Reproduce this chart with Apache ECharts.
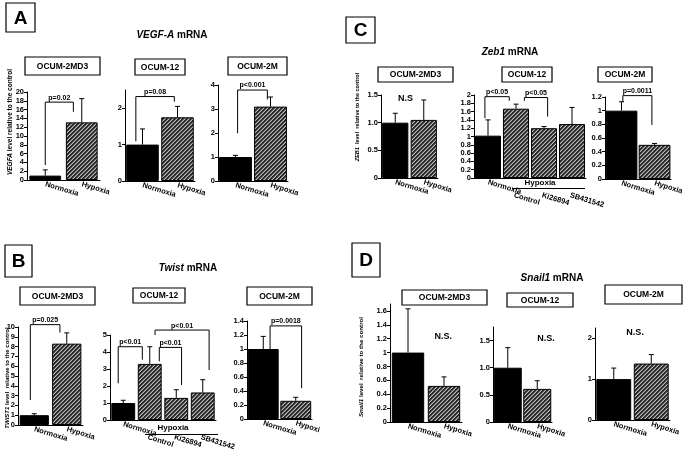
<!DOCTYPE html>
<html><head><meta charset="utf-8">
<script src="https://cdn.jsdelivr.net/npm/echarts@6/dist/echarts.min.js"></script>
<style>html,body{margin:0;padding:0;background:#fff}#c{width:686px;height:458px}</style>
</head><body><div id="c"></div>
<script>
// ---------------- data ----------------
const catsTwo = ['Normoxia', 'Hypoxia'];
const catsFour = ['Normoxia', 'Control', 'Ki26894', 'SB431542'];
const catsTwoShort = ['Normoxia', 'Hypoxi'];

// VEGF-A mRNA (panel A)
const vegf2MD3 = [1.0, 13.1];   const vegf2MD3Sd = [1.3, 5.4];
const vegf12   = [1.0, 1.75];   const vegf12Sd   = [0.43, 0.3];
const vegf2M   = [1.0, 3.1];    const vegf2MSd   = [0.07, 0.4];
// Zeb1 mRNA (panel C)
const zeb2MD3  = [1.0, 1.05];   const zeb2MD3Sd  = [0.17, 0.36];
const zeb12    = [1.02, 1.67, 1.2, 1.3]; const zeb12Sd = [0.38, 0.11, 0.04, 0.4];
const zeb2M    = [1.0, 0.5];    const zeb2MSd    = [0.13, 0.02];
// Twist mRNA (panel B)
const twist2MD3 = [1.0, 8.3];   const twist2MD3Sd = [0.15, 1.1];
const twist12   = [1.0, 3.3, 1.3, 1.62]; const twist12Sd = [0.16, 1.01, 0.48, 0.75];
const twist2M   = [1.0, 0.26];  const twist2MSd   = [0.18, 0.05];
// Snail1 mRNA (panel D)
const snail2MD3 = [1.0, 0.52];  const snail2MD3Sd = [0.63, 0.13];
const snail12   = [1.0, 0.61];  const snail12Sd   = [0.37, 0.15];
const snail2M   = [1.0, 1.38];  const snail2MSd   = [0.27, 0.22];

// ---------------- styling helpers ----------------
const FF = '"Liberation Sans", Arial, sans-serif';
const hatch = (function () {
  const c = document.createElement('canvas'); c.width = 4; c.height = 4;
  const ctx = c.getContext('2d'); const img = ctx.createImageData(4, 4);
  const shade = [40, 40, 110, 185];
  for (let y = 0; y < 4; y++) for (let x = 0; x < 4; x++) {
    const k = (y * 4 + x) * 4; const v = shade[(x + y) % 4];
    img.data[k] = v; img.data[k + 1] = v; img.data[k + 2] = v; img.data[k + 3] = 255;
  }
  ctx.putImageData(img, 0, 0); return c;
})();
const hatchFill = { image: hatch, repeat: 'repeat' };

const fmtDec1 = v => (v === 0 ? '0' : v.toFixed(1));
const ROT = -17;

// layout of the 12 small charts
const subplots = [
  { g: [27, 92, 73, 88],  cats: catsTwo, vals: vegf2MD3, sd: vegf2MD3Sd, max: 20, step: 2, gap: '13%',
    ann: [{ l: 0, lo: 0, yl: 3.4, top: 17.7, r: 1, ro: -0.23, yr: 15.5, text: 'p=0.02' }] },
  { g: [125, 90, 70, 91], cats: catsTwo, vals: vegf12, sd: vegf12Sd, max: 2.5, step: 1, gap: '7%', hideMax: true,
    ann: [{ l: 0, lo: -0.19, yl: 1.09, top: 2.32, r: 1, ro: -0.09, yr: 2.18, text: 'p=0.08' }] },
  { g: [218, 85, 70, 96], cats: catsTwo, vals: vegf2M, sd: vegf2MSd, max: 4, step: 1, gap: '6%',
    ann: [{ l: 0, lo: 0.06, yl: 1.99, top: 3.79, r: 1, ro: -0.09, yr: 3.4, text: 'p<0.001' }] },

  { g: [381, 95, 57, 83], cats: catsTwo, vals: zeb2MD3, sd: zeb2MD3Sd, max: 1.5, step: 0.5, gap: '8%', fmt: fmtDec1,
    ann: [{ c: 0, o: 0.36, y: 1.43, note: 'N.S' }] },
  { g: [474, 95, 112, 83], cats: catsFour, vals: zeb12, sd: zeb12Sd, max: 2, step: 0.2, gap: '7%', group: true,
    ann: [{ l: 0, lo: -0.11, yl: 1.44, top: 1.96, r: 1, ro: -0.24, yr: 1.86, text: 'p<0.05' },
          { l: 1, lo: 0.3, yl: 1.86, top: 1.94, r: 2, ro: 0.13, yr: 1.48, text: 'p<0.05' }] },
  { g: [605, 97, 68, 82], cats: catsTwo, vals: zeb2M, sd: zeb2MSd, max: 1.2, step: 0.2, gap: '4%',
    ann: [{ l: 0, lo: 0.04, yl: 1.13, top: 1.22, r: 1, ro: -0.08, yr: 0.79, text: 'p=0.0011' }] },

  { g: [18, 327, 65, 98], cats: catsTwo, vals: twist2MD3, sd: twist2MD3Sd, max: 10, step: 1, gap: '10%',
    ann: [{ l: 0, lo: -0.12, yl: 2.54, top: 10.24, r: 1, ro: -0.21, yr: 9.43, text: 'p=0.025' }] },
  { g: [110, 335, 106, 85], cats: catsFour, vals: twist12, sd: twist12Sd, max: 5, step: 1, gap: '10%', group: true,
    ann: [{ l: 0, lo: -0.19, yl: 2.16, top: 4.31, r: 1, ro: -0.28, yr: 3.55, text: 'p<0.01' },
          { l: 1, lo: 0.36, yl: 3.45, top: 4.27, r: 2, ro: 0.2, yr: 2.06, text: 'p<0.01' },
          { l: 1, lo: 0.2, yl: 5.0, top: 5.29, r: 3, ro: 0.24, yr: 2.94, text: 'p<0.01' }] },
  { g: [247, 321, 65, 98], cats: catsTwoShort, vals: twist2M, sd: twist2MSd, max: 1.4, step: 0.2, gap: '5%',
    ann: [{ l: 0, lo: 0.21, yl: 1.0, top: 1.33, r: 1, ro: 0.18, yr: 0.44, text: 'p=0.0018' }] },

  { g: [390, 304, 72, 118], cats: catsTwo, vals: snail2MD3, sd: snail2MD3Sd, max: 1.7, step: 0.2, gap: '10%', hideMax: true,
    ann: [{ c: 1, o: -0.02, y: 1.23, note: 'N.S.' }] },
  { g: [493, 327, 59, 95], cats: catsTwo, vals: snail12, sd: snail12Sd, max: 1.75, step: 0.5, gap: '5%', fmt: fmtDec1, hideMax: true,
    ann: [{ c: 1, o: 0.3, y: 1.53, note: 'N.S.' }] },
  { g: [595, 328, 75, 92], cats: catsTwo, vals: snail2M, sd: snail2MSd, max: 2.25, step: 1, gap: '7%', hideMax: true,
    ann: [{ c: 0, o: 0.57, y: 2.15, note: 'N.S.' }] }
];

const grids = [], xAxes = [], yAxes = [], series = [];
subplots.forEach((s, i) => {
  grids.push({ left: s.g[0], top: s.g[1], width: s.g[2], height: s.g[3], containLabel: false });
  const labelBase = { fontFamily: FF, fontWeight: 'bold', fontSize: 7.5, color: '#000' };
  const xLabel = Object.assign({ rotate: ROT, margin: 4, interval: 0 }, labelBase);
  if (s.group) xLabel.formatter = (v, idx) => (idx === 0 ? v : '');
  xAxes.push({
    type: 'category', gridIndex: i, data: s.cats,
    axisLine: { show: true, lineStyle: { color: '#000', width: 1 } },
    axisTick: { show: false }, splitLine: { show: false }, axisLabel: xLabel
  });
  yAxes.push({
    type: 'value', gridIndex: i, min: 0, max: s.max, interval: s.step,
    axisLine: { show: true, lineStyle: { color: '#000', width: 1 } },
    axisTick: { show: true, length: 3, inside: false, lineStyle: { color: '#000' } },
    splitLine: { show: false },
    axisLabel: Object.assign({ margin: 3, showMaxLabel: !s.hideMax, formatter: s.fmt }, labelBase)
  });
  series.push({
    type: 'bar', xAxisIndex: i, yAxisIndex: i, barCategoryGap: s.gap,
    data: s.vals.map((v, k) => ({ value: v, itemStyle: { color: k === 0 ? '#000' : hatchFill, borderColor: '#000', borderWidth: 1 } })),
    z: 2
  });
  // error bars (upper whisker)
  series.push({
    type: 'custom', xAxisIndex: i, yAxisIndex: i, z: 3, silent: true,
    data: s.vals.map((v, k) => [k, v, v + s.sd[k]]),
    renderItem: (params, api) => {
      const x = api.value(0);
      const p0 = api.coord([x, api.value(1)]);
      const p1 = api.coord([x, api.value(2)]);
      return {
        type: 'group', children: [
          { type: 'line', shape: { x1: p0[0], y1: p0[1], x2: p1[0], y2: p1[1] }, style: { stroke: '#000', lineWidth: 1 } },
          { type: 'line', shape: { x1: p1[0] - 2.5, y1: p1[1], x2: p1[0] + 2.5, y2: p1[1] }, style: { stroke: '#000', lineWidth: 1 } }
        ]
      };
    }
  });
  // significance brackets and notes
  series.push({
    type: 'custom', xAxisIndex: i, yAxisIndex: i, z: 4, silent: true, clip: false,
    data: s.ann.map(a => [a.l !== undefined ? a.l : a.c, a.top !== undefined ? a.top : a.y]),
    renderItem: (params, api) => {
      const a = s.ann[params.dataIndex];
      const bw = api.size([1, 0])[0];
      if (a.note) {
        const p = api.coord([a.c, a.y]);
        return { type: 'text', x: p[0] + a.o * bw, y: p[1],
          style: { text: a.note, font: 'bold 9px ' + FF, fill: '#000', align: 'center', verticalAlign: 'middle' } };
      }
      const pL = api.coord([a.l, a.yl]);
      const pR = api.coord([a.r, a.yr]);
      const yT = api.coord([a.l, a.top])[1];
      const xL = pL[0] + a.lo * bw, xR = pR[0] + a.ro * bw;
      return {
        type: 'group', children: [
          { type: 'polyline', shape: { points: [[xL, pL[1]], [xL, yT], [xR, yT], [xR, pR[1]]] },
            style: { stroke: '#000', lineWidth: 1, fill: null } },
          { type: 'text', x: (xL + xR) / 2, y: yT - 1,
            style: { text: a.text, font: 'bold 7px ' + FF, fill: '#000', align: 'center', verticalAlign: 'bottom' } }
        ]
      };
    }
  });
  // category labels of the hypoxia group (set lower, below the group line)
  if (s.group) {
    series.push({
      type: 'custom', xAxisIndex: i, yAxisIndex: i, z: 4, silent: true, clip: false,
      data: s.cats.map((c, k) => [k, 0]).slice(1),
      renderItem: (params, api) => {
        const p = api.coord([api.value(0), 0]);
        return { type: 'text', x: p[0] - 2, y: p[1] + 17, rotation: ROT * Math.PI / 180,
          style: { text: s.cats[params.dataIndex + 1], font: 'bold 7.5px ' + FF, fill: '#000', align: 'left', verticalAlign: 'middle' } };
      }
    });
  }
});

// ---------------- decorations (letters, titles, boxes) ----------------
const graphic = [];
function box(x, y, w, h, lw) {
  graphic.push({ type: 'rect', shape: { x: x, y: y, width: w, height: h }, style: { fill: '#fff', stroke: '#000', lineWidth: lw || 1 }, z: 10 });
}
function txt(x, y, text, font) {
  graphic.push({ type: 'text', x: x, y: y, z: 11,
    style: { text: text, font: font, fill: '#000', align: 'center', verticalAlign: 'middle', textAlign: 'center', textVerticalAlign: 'middle' } });
}
function richText(x, y, ital, rest, size, rot) {
  graphic.push({ type: 'text', x: x, y: y, rotation: rot || 0, z: 11, style: {
    text: '{i|' + ital + '}{n|' + rest + '}', fill: '#000', align: 'center', verticalAlign: 'middle', textAlign: 'center', textVerticalAlign: 'middle',
    font: 'bold ' + size + 'px ' + FF,
    rich: { i: { font: 'italic bold ' + size + 'px ' + FF, fill: '#000' }, n: { font: 'bold ' + size + 'px ' + FF, fill: '#000' } } } });
}

// panel letters
[[6, 3, 29, 29, 'A'], [346, 17, 29, 26, 'C'], [5, 245, 27, 32, 'B'], [352, 243, 28, 34, 'D']].forEach(b => {
  box(b[0], b[1], b[2], b[3], 1.2); txt(b[0] + b[2] / 2, b[1] + b[3] / 2 + 1, b[4], 'bold 19px ' + FF);
});
// panel titles
richText(172, 35, 'VEGF-A', ' mRNA', 10);
richText(510, 52, 'Zeb1', ' mRNA', 10);
richText(188, 268, 'Twist', ' mRNA', 10);
richText(552, 278, 'Snail1', ' mRNA', 10);
// cell-line boxes
[[25, 57, 75, 18, 'OCUM-2MD3'], [135, 59, 50, 16, 'OCUM-12'], [228, 57, 59, 18, 'OCUM-2M'],
 [378, 67, 75, 15, 'OCUM-2MD3'], [502, 67, 50, 15, 'OCUM-12'], [598, 67, 54, 15, 'OCUM-2M'],
 [20, 287, 75, 18, 'OCUM-2MD3'], [133, 288, 52, 15, 'OCUM-12'], [247, 287, 65, 18, 'OCUM-2M'],
 [402, 290, 85, 15, 'OCUM-2MD3'], [507, 293, 66, 14, 'OCUM-12'], [605, 285, 77, 19, 'OCUM-2M']].forEach(b => {
  box(b[0], b[1], b[2], b[3], 1.2); txt(b[0] + b[2] / 2, b[1] + b[3] / 2 + 0.5, b[4], 'bold 8.5px ' + FF);
});
// y-axis titles
richText(10, 122, 'VEGFA', ' level relative to the control', 6.5, Math.PI / 2);
richText(357, 117, 'ZEB1', '  level  relative to the control', 5.5, Math.PI / 2);
richText(7, 378, 'TWIST1', ' level  relative to the control', 6, Math.PI / 2);
richText(361, 367, 'Snail1', ' level  relative to the control', 6.2, Math.PI / 2);
// Hypoxia group labels
txt(540, 183, 'Hypoxia', 'bold 8px ' + FF);
graphic.push({ type: 'line', shape: { x1: 512, y1: 188.5, x2: 585, y2: 188.5 }, style: { stroke: '#000', lineWidth: 1 }, z: 11 });
txt(173, 428, 'Hypoxia', 'bold 8px ' + FF);
graphic.push({ type: 'line', shape: { x1: 145, y1: 434.5, x2: 218, y2: 434.5 }, style: { stroke: '#000', lineWidth: 1 }, z: 11 });

const chart = echarts.init(document.getElementById('c'), null, { renderer: 'canvas' });
chart.setOption({
  animation: false,
  backgroundColor: '#fff',
  textStyle: { fontFamily: FF },
  grid: grids, xAxis: xAxes, yAxis: yAxes, series: series, graphic: graphic
});
</script></body></html>
